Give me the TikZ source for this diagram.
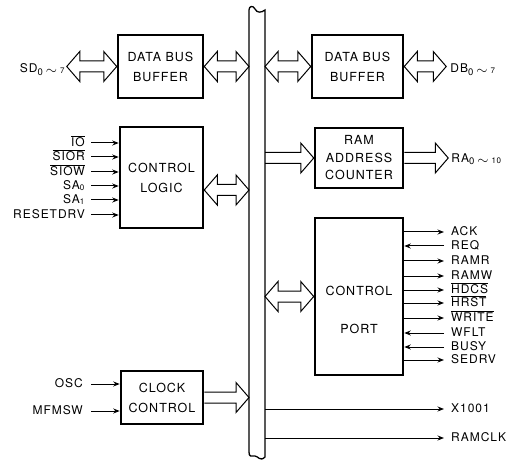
\documentclass[tikz,border=0pt]{standalone}
\usepackage{fontspec}
\setmainfont{TeX Gyre Heros}[LetterSpace=8]
\usetikzlibrary{calc,arrows.meta}
\newcommand\dblarr[2]{\draw[wide] (#1) -- ++(13,-15) -- ++(0,9.5) -- ($(#2)+(-13,-5.5)$) -- ++(0,-9.5) -- (#2) -- ++(-13,15) -- ++(0,-9.5) -- ($(#1)+(13,5.5)$) -- ++(0,9.5) -- cycle;}
\newcommand\sarr[2]{\draw[wide] ($(#1)+(0,-5.5)$) -- ($(#2)+(-13,-5.5)$) -- ++(0,-9.5) -- (#2) -- ++(-13,15) -- ++(0,-9.5) -- ($(#1)+(0,5.5)$);}
\newcommand\ovl[1]{$\overline{\mbox{#1}}$}
\newcommand\rng[2]{\raisebox{-2.5pt}{\fontsize{9.5}{9.5}\selectfont #1}\hspace{3pt}\raisebox{-2pt}{\fontsize{14}{14}\selectfont$\sim$}\hspace{3pt}\raisebox{-1pt}{\fontsize{8}{8}\selectfont #2}}
\begin{document}
\begin{tikzpicture}[x=1pt,y=-1pt,
 blk/.style={draw,line width=2.5pt,inner sep=0pt,align=center,font=\fontsize{12.5}{20}\selectfont},
 wide/.style={draw,line width=1pt,line join=miter},
 sig/.style={line width=1pt,-{Stealth[length=6.5pt,width=5pt]}},
 lbl/.style={font=\fontsize{12}{14}\selectfont,inner sep=1pt,text height=8.6pt,text depth=2.4pt},
 busline/.style={line width=1.3pt}]
\useasboundingbox (0,0) rectangle (519,462);

% bus
\coordinate (BL) at (249,0);
\coordinate (BR) at (265,0);
\draw[busline] (249,452) -- (249,10) .. controls (249,6) and (253,5) .. (255,9)
  .. controls (257,13) and (261,13) .. (265,10) -- (265,457)
  .. controls (260,462) and (258,456) .. (255,456)
  .. controls (251,456) and (249,457) .. (249,452) -- cycle;

% blocks
\node[blk,minimum width=85,minimum height=63] (dbb1) at (160.5,66.5) {DATA BUS\\BUFFER};
\node[blk,minimum width=91,minimum height=63] (dbb2) at (357.5,66.5) {DATA BUS\\BUFFER};
\node[blk,minimum width=83,minimum height=101] (cl) at (161.5,177.5) {CONTROL\\LOGIC};
\node[blk,minimum width=88,minimum height=60,font=\fontsize{12.5}{17.5}\selectfont] (rac) at (359,158) {RAM\\ADDRESS\\COUNTER};
\node[blk,minimum width=88,minimum height=157] (cp) at (359,296.5) {};
\node[font=\fontsize{12.5}{14}\selectfont] (cpt1) at (359,291) {CONTROL};
\node[font=\fontsize{12.5}{14}\selectfont] (cpt2) at (359,329) {PORT};
\node[blk,minimum width=82,minimum height=53] (cc) at (162,397.5) {CLOCK\\CONTROL};

% wide arrows
\coordinate (sdT) at ($(dbb1.west)+(-50,0)$);
\node[lbl,anchor=east] (lSD) at ($(sdT)+(-1,3)$) {SD\rng{0}{7}};
\dblarr{sdT}{dbb1.west}
\dblarr{dbb1.east}{BL |- dbb1.east}
\dblarr{BR |- dbb2.west}{dbb2.west}
\coordinate (dbT) at ($(dbb2.east)+(42,0)$);
\dblarr{dbb2.east}{dbT}
\node[lbl,anchor=west] (lDB) at ($(dbT)+(3,3)$) {DB\rng{0}{7}};

\coordinate (clo) at ($(cl.east)+(0,12.5)$);
\dblarr{clo}{BL |- clo}

\sarr{BR |- rac.west}{rac.west}
\coordinate (raT) at ($(rac.east)+(44,0)$);
\sarr{rac.east}{raT}
\node[lbl,anchor=west] (lRA) at ($(raT)+(2,1)$) {RA\rng{0}{10}};

\dblarr{BR |- cp.west}{cp.west}
\sarr{cc.east}{BL |- cc.east}

% control logic inputs
\node[lbl,anchor=east] (lIO) at (86,143) {\ovl{IO}};
\node[lbl,anchor=east] (lSIOR) at (86,157) {\ovl{SIOR}};
\node[lbl,anchor=east] (lSIOW) at (86,172) {\ovl{SIOW}};
\node[lbl,anchor=east] (lSA0) at (86,186) {SA\textsubscript{0}};
\node[lbl,anchor=east] (lSA1) at (86,200) {SA\textsubscript{1}};
\node[lbl,anchor=east] (lRST) at (86,215) {RESETDRV};
\foreach \n in {lIO,lSIOR,lSIOW,lSA0,lSA1,lRST}
  \draw[sig] ([xshift=5pt]\n.east) -- (cl.west |- \n.east);

% clock control inputs
\node[lbl,anchor=east] (lOSC) at (84,384) {OSC};
\node[lbl,anchor=east] (lMFM) at (84,411) {MFMSW};
\foreach \n in {lOSC,lMFM}
  \draw[sig] ([xshift=7pt]\n.east) -- (cc.west |- \n.east);

% control port signals
\node[lbl,anchor=west] (lACK) at (450,232) {ACK};
\node[lbl,anchor=west] (lREQ) at (450,246) {REQ};
\node[lbl,anchor=west] (lRAMR) at (450,261) {RAMR};
\node[lbl,anchor=west] (lRAMW) at (450,276) {RAMW};
\node[lbl,anchor=west] (lHDCS) at (450,290) {\ovl{HDCS}};
\node[lbl,anchor=west] (lHRST) at (450,303) {\ovl{HRST}};
\node[lbl,anchor=west] (lWRITE) at (450,318) {\ovl{WRITE}};
\node[lbl,anchor=west] (lWFLT) at (450,333) {WFLT};
\node[lbl,anchor=west] (lBUSY) at (450,347) {BUSY};
\node[lbl,anchor=west] (lSEDRV) at (450,360) {SEDRV};
\foreach \n in {lACK,lRAMR,lRAMW,lHDCS,lHRST,lWRITE,lSEDRV}
  \draw[sig] (cp.east |- \n.west) -- ([xshift=-6pt]\n.west);
\foreach \n in {lREQ,lWFLT,lBUSY}
  \draw[sig] ([xshift=-6pt]\n.west) -- (cp.east |- \n.west);

% bus outputs
\node[lbl,anchor=west] (lX) at (450,409) {X1001};
\node[lbl,anchor=west] (lCLK) at (450,438) {RAMCLK};
\foreach \n in {lX,lCLK}
  \draw[sig] (BR |- \n.west) -- ([xshift=-6pt]\n.west);
\end{tikzpicture}
\end{document}
